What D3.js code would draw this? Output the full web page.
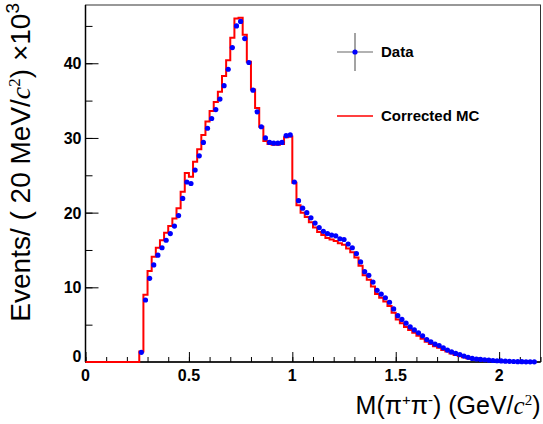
<!DOCTYPE html>
<html>
<head>
<meta charset="utf-8">
<script src="https://cdn.jsdelivr.net/npm/d3@7"></script>
<style>
  body { margin: 0; background: #fff; }
  svg { display: block; }
  .tick-label { font-family: "Liberation Sans", Arial, sans-serif; font-weight: bold; font-size: 16px; }
  .title { font-family: "Liberation Sans", Arial, sans-serif; font-size: 25px; }
  .ytitle { font-family: "Liberation Sans", Arial, sans-serif; font-size: 28px; }
  .legend { font-family: "Liberation Sans", Arial, sans-serif; font-weight: bold; font-size: 15px; }
</style>
</head>
<body>
<div id="chart"></div>
<script>
// bins are 20 MeV wide, first filled bin starts at 0.26 GeV
var binWidth = 0.02;
var firstBin = 0.26;

// data, events per bin (x10^3)
var dataValues = [1.3, 8.3, 11.2, 13.0, 14.3, 15.3, 16.3, 17.2, 18.2, 19.6,
  21.9, 24.1, 23.9, 25.7, 27.6, 29.4, 31.3, 32.6, 33.8, 35.2,
  37.0, 39.2, 42.1, 45.0, 45.6, 43.3, 40.1, 36.4, 33.5, 31.5,
  30.0, 29.4, 29.3, 29.3, 29.4, 30.3, 30.4, 24.1, 21.6, 20.6,
  20.0, 19.3, 18.6, 18.0, 17.5, 17.2, 17.0, 16.9, 16.5, 16.4,
  15.8, 15.3, 14.5, 13.4, 12.1, 11.6, 10.7, 9.6, 9.1, 8.6,
  8.0, 7.1, 6.2, 5.7, 5.2, 4.7, 4.3, 3.9, 3.5, 3.0,
  2.7, 2.4, 2.2, 1.9, 1.6, 1.35, 1.15, 1.0, 0.8, 0.62,
  0.48, 0.4, 0.35, 0.3, 0.25, 0.2, 0.17, 0.14, 0.11, 0.09,
  0.07, 0.05, 0.04, 0.03, 0.02, 0.02];

// corrected MC, same bins
var mcValues = [1.4, 9.0, 12.2, 14.1, 15.3, 16.3, 17.3, 18.2, 19.2, 20.6,
  22.8, 25.3, 24.8, 26.8, 28.5, 30.4, 32.2, 33.6, 34.8, 36.2,
  38.3, 40.4, 43.4, 46.0, 46.1, 43.8, 40.2, 36.5, 34.0, 31.5,
  29.6, 29.2, 29.1, 29.1, 29.2, 30.1, 30.2, 24.0, 21.0, 20.0,
  19.4, 18.7, 18.0, 17.4, 17.0, 16.6, 16.4, 16.2, 15.9, 15.7,
  15.2, 14.7, 14.0, 12.9, 11.6, 11.0, 10.1, 9.1, 8.6, 8.1,
  7.5, 6.6, 5.7, 5.2, 4.7, 4.3, 3.9, 3.5, 3.1, 2.7,
  2.4, 2.1, 1.9, 1.6, 1.4, 1.15, 0.95, 0.8, 0.65, 0.5,
  0.4, 0.32, 0.27, 0.22, 0.18, 0.15, 0.12, 0.1, 0.08, 0.06,
  0.05, 0.04, 0.03, 0.02, 0.02, 0.01];

var xTickLabels = [0, 0.5, 1, 1.5, 2];
var yTickLabels = [0, 10, 20, 30, 40];

/********* layout ********/
var width = 543, height = 424;
var frame = { left: 85.5, right: 540.5, top: 5, bottom: 362 };

var svg = d3.select("#chart").append("svg")
  .attr("width", width)
  .attr("height", height);

var x = d3.scaleLinear().domain([0, 2.2]).range([frame.left, frame.right]);
var y = d3.scaleLinear().domain([0, 47.8]).range([frame.bottom, frame.top]);

/********* frame ********/
svg.append("rect")
  .attr("x", frame.left)
  .attr("y", frame.top)
  .attr("width", frame.right - frame.left)
  .attr("height", frame.bottom - frame.top)
  .attr("fill", "none")
  .attr("stroke", "#333")
  .attr("stroke-width", 1);

/********* axes ********/
// x axis, ticks pointing up into the frame
var xAxisMinor = d3.axisTop(x).tickValues(d3.range(0, 2.2001, 0.1)).tickSize(5).tickFormat("");
var xAxisMajor = d3.axisTop(x).tickValues(xTickLabels).tickSize(10).tickFormat("");
svg.append("g").attr("transform", "translate(0," + frame.bottom + ")").call(xAxisMinor);
svg.append("g").attr("transform", "translate(0," + frame.bottom + ")").call(xAxisMajor);

// y axis, ticks pointing right into the frame
var yAxisMinor = d3.axisRight(y).tickValues(d3.range(0, 47.8, 5)).tickSize(7).tickFormat("");
var yAxisMajor = d3.axisRight(y).tickValues(yTickLabels).tickSize(13).tickFormat("");
svg.append("g").attr("transform", "translate(" + frame.left + ",0)").call(yAxisMinor);
svg.append("g").attr("transform", "translate(" + frame.left + ",0)").call(yAxisMajor);

svg.selectAll(".domain").remove();
svg.selectAll(".tick line").attr("stroke", "#000").attr("stroke-width", 1);

// axis lines
svg.append("line")
  .attr("x1", frame.left).attr("x2", frame.left)
  .attr("y1", frame.top).attr("y2", frame.bottom)
  .attr("stroke", "#000").attr("stroke-width", 1.5);
svg.append("line")
  .attr("x1", frame.left).attr("x2", frame.right)
  .attr("y1", frame.bottom).attr("y2", frame.bottom)
  .attr("stroke", "#000").attr("stroke-width", 1.5);

// tick labels
svg.selectAll(".xlab")
  .data(xTickLabels)
  .enter().append("text")
  .attr("class", "tick-label")
  .attr("x", function (d) { return x(d); })
  .attr("y", frame.bottom + 19)
  .attr("text-anchor", "middle")
  .text(function (d) { return d; });

svg.selectAll(".ylab")
  .data(yTickLabels)
  .enter().append("text")
  .attr("class", "tick-label")
  .attr("x", frame.left - 4)
  .attr("y", function (d) { return d == 0 ? y(d) : y(d) + 6; })
  .attr("text-anchor", "end")
  .text(function (d) { return d; });

/********* titles ********/
var xTitle = svg.append("text")
  .attr("class", "title")
  .attr("x", frame.right)
  .attr("y", 414)
  .attr("text-anchor", "end");
xTitle.append("tspan").text("M(\u03c0");
xTitle.append("tspan").attr("font-size", "15px").attr("dy", -9).text("+");
xTitle.append("tspan").attr("dy", 9).text("\u03c0");
xTitle.append("tspan").attr("font-size", "15px").attr("dy", -9).text("-");
xTitle.append("tspan").attr("dy", 9).text(") (GeV/");
xTitle.append("tspan").attr("font-family", "Liberation Serif").attr("font-style", "italic").text("c");
xTitle.append("tspan").attr("font-family", "Liberation Serif").attr("font-size", "15px").attr("dy", -9).text("2");
xTitle.append("tspan").attr("dy", 9).text(")");

// y title, runs up to the top of the axis
var yTitle = svg.append("text")
  .attr("class", "ytitle")
  .attr("transform", "translate(30,3) rotate(-90)")
  .attr("text-anchor", "end");
yTitle.append("tspan").text("Events/ ( 20 MeV/");
yTitle.append("tspan").attr("font-family", "Liberation Serif").attr("font-style", "italic").text("c");
yTitle.append("tspan").attr("font-family", "Liberation Serif").attr("font-size", "17px").attr("dy", -10).text("2");
yTitle.append("tspan").attr("dy", 10).text(") \u00d710");
yTitle.append("tspan").attr("font-size", "19px").attr("dy", -11).text("3");

/********* corrected MC histogram ********/
var mcPoints = [[0, 0], [firstBin, 0]];
mcValues.forEach(function (v, i) {
  var lo = firstBin + i * binWidth;
  mcPoints.push([lo, v]);
  mcPoints.push([lo + binWidth, v]);
});

var line = d3.line()
  .x(function (d) { return x(d[0]); })
  .y(function (d) { return y(d[1]); });

svg.append("path")
  .datum(mcPoints)
  .attr("d", line)
  .attr("fill", "none")
  .attr("stroke", "#ff0000")
  .attr("stroke-width", 2);

/********* data points ********/
svg.selectAll(".dot")
  .data(dataValues)
  .enter().append("circle")
  .attr("class", "dot")
  .attr("cx", function (d, i) { return x(firstBin + (i + 0.5) * binWidth); })
  .attr("cy", function (d) { return y(d); })
  .attr("r", 2.6)
  .attr("fill", "#0000ff");

/********* legend ********/
var legX = 355, legY1 = 52, legY2 = 116;
svg.append("line")
  .attr("x1", legX - 18).attr("x2", legX + 18)
  .attr("y1", legY1).attr("y2", legY1)
  .attr("stroke", "#666").attr("stroke-width", 1.2);
svg.append("line")
  .attr("x1", legX).attr("x2", legX)
  .attr("y1", legY1 - 19).attr("y2", legY1 + 19)
  .attr("stroke", "#666").attr("stroke-width", 1.2);
svg.append("circle")
  .attr("cx", legX).attr("cy", legY1).attr("r", 2.6)
  .attr("fill", "#0000ff");
svg.append("text")
  .attr("class", "legend")
  .attr("x", legX + 26).attr("y", legY1 + 5)
  .text("Data");

svg.append("line")
  .attr("x1", legX - 18).attr("x2", legX + 18)
  .attr("y1", legY2).attr("y2", legY2)
  .attr("stroke", "#ff0000").attr("stroke-width", 1.5);
svg.append("text")
  .attr("class", "legend")
  .attr("x", legX + 26).attr("y", legY2 + 5)
  .text("Corrected MC");
</script>
</body>
</html>
